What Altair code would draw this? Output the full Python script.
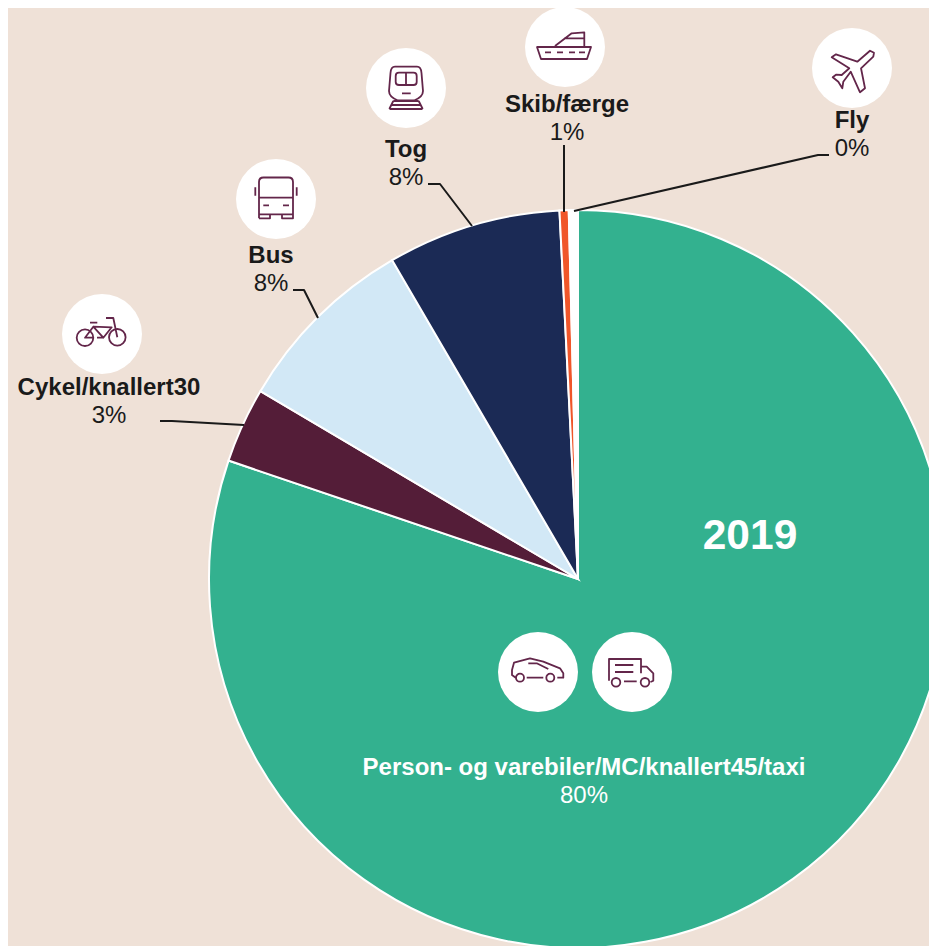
import altair as alt
import pandas as pd

# ---- data ----
categories = ["Person- og varebiler/MC/knallert45/taxi", "Cykel/knallert30", "Bus", "Tog", "Skib/færge", "Fly"]
shares = [80.2, 3.3, 8.1, 7.6, 0.4, 0.4]
share_labels = ["80%", "3%", "8%", "8%", "1%", "0%"]
colors = ["#33b18f", "#541d38", "#d2e8f6", "#1b2a55", "#f0562a", "#ffffff"]

BG = "#efe1d7"
INK = "#1a1a1a"
ICON = "#63264a"
FONT = "Liberation Sans"

# layout, in page pixels (the plot starts at the page's 8px margin)
W, H = 921, 938
CX, CY, R = 578, 579, 369
XS = alt.Scale(domain=[8, 8 + W], nice=False, zero=False)
YS = alt.Scale(domain=[8 + H, 8], nice=False, zero=False)

name_x = [584, 109, 271, 406, 567, 852]
name_y = [768, 388, 256, 150, 105, 121]
pct_y = [796, 416, 284, 178, 133, 149]
text_col = ["#ffffff", INK, INK, INK, INK, INK]

leaders = {
    "Cykel": ([160, 172, 244], [421, 421, 425]),
    "Bus": ([293, 304, 318], [290, 290, 318]),
    "Tog": ([428, 440, 472], [184, 184, 226]),
    "Skib": ([564, 564], [145, 212]),
    "Fly": ([829, 818, 574], [155, 155, 211]),
}


def circ(cx, cy, r):
    return f"M{cx-r},{cy}A{r},{r} 0 1 1 {cx+r},{cy}A{r},{r} 0 1 1 {cx-r},{cy}"


icons = {
    "bike": (102, 334,
             circ(-17, 3.7, 8.3) + circ(15.3, 3.3, 8.3) +
             "M-12,-11.3L-4.7,-11.3M4,-16L11.3,-16L15.3,3.3"
             "M-8.7,-7.3L9.7,-6.7L1.3,3.7L-8.7,-7.3L-17,3.7L-9,3.7M-5,3.7L1.3,3.7"),
    "bus": (276, 199,
            "M-17,19.3L-17,-17Q-17,-21.5 -12.5,-21.5L12.5,-21.5Q17,-21.5 17,-17L17,19.3L6,19.3L6,15.3"
            "L-6,15.3L-6,19.3L-17,19.3M-17,15.3L-6,15.3M6,15.3L17,15.3M-17,-1.3L17,-1.3"
            "M-20.7,-11.7L-20.7,-3.3M20.7,-11.7L20.7,-3.3M-12.7,6.3L-7,6.3M7,6.3L13,6.3"),
    "train": (406, 88,
              "M-11,-21.3L11,-21.3Q15,-21.3 15.5,-15L17,3Q17,9 8,12.5L-8,12.5Q-17,9 -17,3L-15.5,-15Q-15,-21.3 -11,-21.3Z"
              "M-7,-15.3L7.5,-15.3Q10.7,-15.3 10.7,-12L10.7,-6Q10.7,-3 7.5,-3L-7,-3Q-10.3,-3 -10.3,-6L-10.3,-12Q-10.3,-15.3 -7,-15.3Z"
              "M0,-15.3L0,-3M-4,5.3L4.7,5.3M-12.7,13L12.7,13M-14.7,17L14.7,17M-16.7,21L16.7,21"
              "M-12.7,13L-16.7,21M12.7,13L16.7,21"),
    "ship": (565, 47,
             "M-28,0L26,0L22,12L-24,12Z"
             "M-20,5.3L-14,5.3M-8,5.3L-2,5.3M4,5.3L10,5.3M14,5.3L20,5.3"
             "M-10,-1L6.7,-13.7L19.3,-14.7L19.3,-1M-1,-8.7L19.3,-8.7"),
    "plane": (852, 68,
              "M18,-17.3L22,-15.3L21.3,-11.3L9,0.3L13,20.3L8,24.3L-1.3,3.7L-8.7,13.7L-9.7,20.3L-13.7,13.7"
              "L-19.3,9.3L-16,6.7L-10.3,7L-2.7,0.3L-20.3,-10.7L-16,-13.7L5.3,-6.3Z"),
    "car": (538, 672,
            circ(-18, 5.7, 4) + circ(12.3, 5.7, 4) +
            "M-11.3,5.7L5.3,5.7M-22.3,5.7L-26,3L-26,-2L-24,-9.3L-8,-13.7L5.3,-10.3L22,-3.7L25.3,1.3L25.3,5.7L19.3,5.7"
            "M-9.7,-8.7L-1.3,-8.7L10.3,-3"),
    "van": (632, 672,
            circ(-16, 10.3, 4.3) + circ(13, 10.3, 4.3) +
            "M-23,8.7L-23,-13L9,-13L9,1.3M9,-5.3L14.7,-5.3L21.3,1.3L21.3,8.7L18.5,10"
            "M-17,-7L1.3,-7M-17,0L1.3,0M-8,9.3L4.7,9.3"),
}

# ---- frames ----
pie_df = pd.DataFrame({"cat": categories, "share": shares, "i": range(len(shares))})
labels_df = pd.DataFrame({"name": categories, "pct": share_labels, "x": name_x,
                          "y": name_y, "py": pct_y, "col": text_col})
lead_df = pd.DataFrame([
    {"k": k, "o": j, "x": x, "y": y}
    for k, (xs, ys) in leaders.items() for j, (x, y) in enumerate(zip(xs, ys))
])
icon_df = pd.DataFrame([{"k": k, "x": v[0], "y": v[1]} for k, v in icons.items()])

X = alt.X("x:Q", scale=XS, axis=None)
Y = alt.Y("y:Q", scale=YS, axis=None)

pie = alt.Chart(pie_df).mark_arc(radius=R, stroke="#ffffff", strokeWidth=2).encode(
    theta=alt.Theta("share:Q", stack=True),
    order=alt.Order("i:Q"),
    color=alt.Color("cat:N", scale=alt.Scale(domain=categories, range=colors), legend=None),
    x=alt.value(CX - 8),
    y=alt.value(CY - 8),
)

lines = alt.Chart(lead_df).mark_line(color=INK, strokeWidth=2, strokeJoin="round").encode(
    x=X, y=Y, detail="k:N", order="o:Q")

discs = alt.Chart(icon_df).mark_point(filled=True, color="#ffffff", opacity=1, size=6400).encode(x=X, y=Y)

glyphs = [
    alt.Chart(icon_df[icon_df.k == k]).mark_point(
        shape=v[2], size=4, filled=False, stroke=ICON, strokeWidth=1.8, opacity=1, fillOpacity=0,
        strokeJoin="round").encode(x=X, y=Y)
    for k, v in icons.items()
]

names = alt.Chart(labels_df).mark_text(font=FONT, fontSize=24, fontWeight="bold", baseline="middle").encode(
    x=X, y=alt.Y("y:Q", scale=YS, axis=None), text="name:N",
    color=alt.Color("col:N", scale=None))
pcts = alt.Chart(labels_df).mark_text(font=FONT, fontSize=24, baseline="middle").encode(
    x=X, y=alt.Y("py:Q", scale=YS, axis=None), text="pct:N",
    color=alt.Color("col:N", scale=None))

year = alt.Chart(pd.DataFrame({"t": ["2019"], "x": [750], "y": [536]})).mark_text(
    font=FONT, fontSize=42.5, fontWeight="bold", baseline="middle", color="#ffffff").encode(x=X, y=Y, text="t:N")

chart = alt.layer(pie, lines, discs, *glyphs, names, pcts, year).properties(
    width=W, height=H, background=BG, padding=0,
    autosize=alt.AutoSizeParams(type="none"),
).configure_view(stroke=None)

chart.save("out.html", embed_options={"renderer": "svg", "actions": False})
